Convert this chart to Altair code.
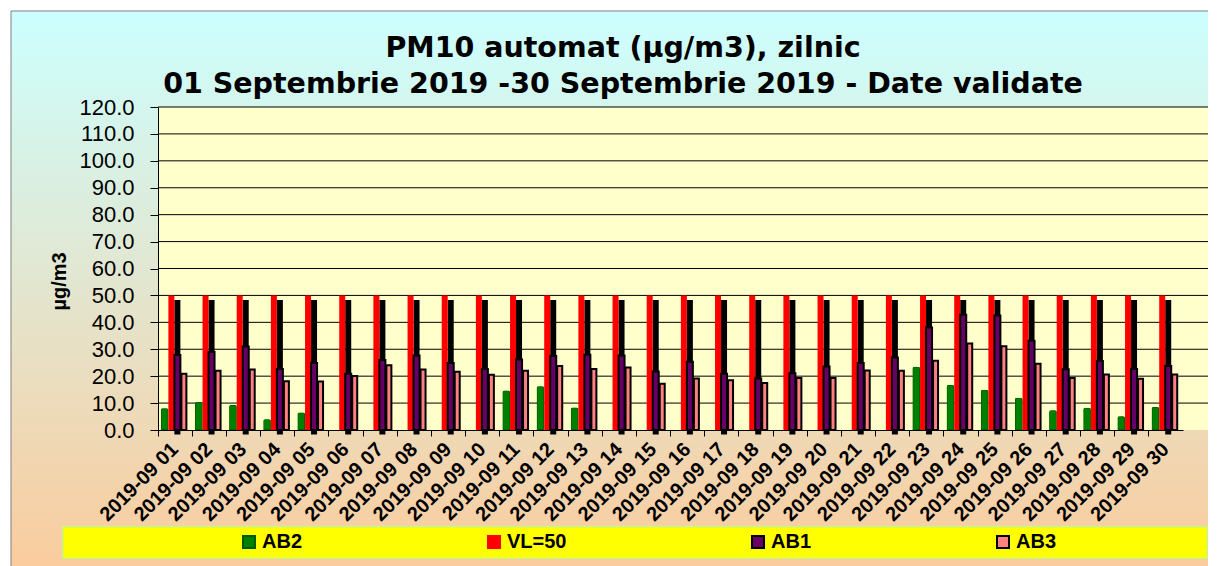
import altair as alt
import pandas as pd

DAYS = ["2019-09 01", "2019-09 02", "2019-09 03", "2019-09 04", "2019-09 05",
        "2019-09 06", "2019-09 07", "2019-09 08", "2019-09 09", "2019-09 10",
        "2019-09 11", "2019-09 12", "2019-09 13", "2019-09 14", "2019-09 15",
        "2019-09 16", "2019-09 17", "2019-09 18", "2019-09 19", "2019-09 20",
        "2019-09 21", "2019-09 22", "2019-09 23", "2019-09 24", "2019-09 25",
        "2019-09 26", "2019-09 27", "2019-09 28", "2019-09 29", "2019-09 30"]
AB2 = [8.1, 10.4, 9.3, 4.0, 6.5, None, None, None, None, None,
       14.7, 16.3, 8.4, None, None, None, None, None, None, None,
       None, None, 23.5, 16.7, 14.9, 12.0, 7.3, 8.3, 5.1, 8.5]
VL = [50.0] * 30
AB1 = [27.9, 29.0, 31.0, 22.7, 24.9, 20.9, 26.0, 27.7, 24.9, 22.7,
       26.2, 27.5, 28.0, 27.7, 21.7, 25.4, 20.9, 19.1, 21.1, 23.6,
       24.9, 26.9, 38.1, 42.8, 42.5, 33.2, 22.6, 25.6, 22.7, 23.8]
AB3 = [20.9, 22.0, 22.5, 18.1, 18.0, 20.1, 24.1, 22.5, 21.6, 20.5,
       22.0, 23.8, 22.7, 23.2, 17.2, 19.1, 18.5, 17.5, 19.3, 19.3,
       22.1, 22.0, 25.7, 32.1, 31.1, 24.6, 19.3, 20.6, 19.0, 20.6]
SERIES = ["AB2", "VL=50", "AB1", "AB3"]
FILLS = ["#008000", "#FF0000", "#660066", "#FF8080"]
STROKES = ["#005A00", "#FF0000", "#000000", "#000000"]
Y_TICKS = [0, 10, 20, 30, 40, 50, 60, 70, 80, 90, 100, 110, 120]
GRID = [10, 20, 30, 40, 50, 60, 70, 80, 90, 100, 110, 120]
TITLE = ["PM10 automat (\u00b5g/m3), zilnic",
         "01 Septembrie 2019 -30 Septembrie 2019 - Date validate"]

W, H = 1050, 323
BAND_RANGE = 1025

df = pd.DataFrame({"day": DAYS, "AB2": AB2, "VL": VL, "AB1": AB1, "AB3": AB3})
one = pd.DataFrame({"k": [0]})

XS = alt.Scale(domain=DAYS, range=[0, BAND_RANGE], paddingInner=0, paddingOuter=0)
YS = alt.Scale(domain=[0, 120], nice=False, zero=True)

X_AXIS = alt.Axis(title=None, bandPosition=0, labelOffset=0, labelAngle=-45,
                  labelAlign="right", labelBaseline="middle",
                  labelFont="Liberation Sans", labelFontSize=20, labelFontWeight="bold",
                  labelColor="black", tickSize=6, tickColor="black",
                  domainColor="black", labelPadding=10, zindex=1, grid=False)
Y_AXIS = alt.Axis(title="\u00b5g/m3", values=Y_TICKS, format=".1f",
                  labelFont="Liberation Sans", labelFontSize=22, labelColor="black",
                  tickSize=8, tickColor="black", domainColor="black", labelPadding=16,
                  titleFont="Liberation Sans", titleFontSize=20, titleFontWeight="bold",
                  titleColor="black", titleX=-89, titleY=174, titleAlign="center",
                  titleBaseline="bottom", grid=False, zindex=1)

CS = alt.Scale(domain=SERIES, range=FILLS)
SS = alt.Scale(domain=SERIES, range=STROKES)

x_enc = alt.X("day:N", scale=XS, axis=X_AXIS, sort=DAYS)

background = alt.Chart(one).mark_rect(
    color={"gradient": "linear", "x1": 0, "y1": 0, "x2": 0, "y2": 1,
           "stops": [{"offset": 0, "color": "#CCFFFF"},
                     {"offset": 1, "color": "#FBCB9C"}]},
).encode(x=alt.value(-147), x2=alt.value(W), y=alt.value(-96), y2=alt.value(470))

frame_left = alt.Chart(one).mark_rule(color="#808080", strokeWidth=1).encode(
    x=alt.value(-147), y=alt.value(-96), y2=alt.value(470))
frame_top = alt.Chart(one).mark_rule(color="#808080", strokeWidth=1).encode(
    x=alt.value(-147), x2=alt.value(W), y=alt.value(-96))

plot_bg = alt.Chart(one).mark_rect(color="#FFFFCC").encode(
    x=alt.value(0), x2=alt.value(W), y=alt.value(0), y2=alt.value(H))

strip = alt.Chart(one).mark_rect(color="#FFFF00", stroke="#CCFF66", strokeWidth=1.5).encode(
    x=alt.value(-95), x2=alt.value(W - 1), y=alt.value(420), y2=alt.value(451))

grid = alt.Chart(pd.DataFrame({"v": GRID})).mark_rule(color="#000000", strokeWidth=1).encode(
    y=alt.Y("v:Q", scale=YS, axis=Y_AXIS), x=alt.value(0), x2=alt.value(W))


def series_layer(col, name, width, xoff, stroke_w, **kw):
    return alt.Chart(df).transform_calculate(series=f"'{name}'").mark_bar(
        width=width, xOffset=xoff, strokeWidth=stroke_w, **kw).encode(
        x=x_enc,
        y=alt.Y(f"{col}:Q", scale=YS, axis=Y_AXIS),
        color=alt.Color("series:N", scale=CS, legend=alt.Legend(title=None)),
        stroke=alt.Stroke("series:N", scale=SS, legend=alt.Legend(title=None)),
    )


ab2 = series_layer("AB2", "AB2", 7.5, -10.5, 1.5, cornerRadiusTopLeft=2, cornerRadiusTopRight=2)
shadow = alt.Chart(df).mark_bar(color="#000000", width=6, xOffset=2.3, yOffset=4.5, y2Offset=2).encode(
    x=x_enc, y=alt.Y("VL:Q", scale=YS, axis=Y_AXIS))
vl = series_layer("VL", "VL=50", 6, -3.7, 0)
ab1 = series_layer("AB1", "AB1", 6, 2.3, 2)
ab3 = series_layer("AB3", "AB3", 5, 8.8, 2)

chart = alt.layer(background, frame_left, frame_top, plot_bg, strip, grid,
                  ab2, shadow, vl, ab1, ab3).properties(
    width=W, height=H,
    padding={"left": 2, "top": 2, "right": 0, "bottom": 0},
    title=alt.TitleParams(text=TITLE, anchor="middle", dx=-60, dy=64, offset=-47,
                          baseline="alphabetic", font="DejaVu Sans", fontSize=28.5,
                          fontWeight="bold", color="black", lineHeight=36, frame="group"),
).configure_view(strokeWidth=0).configure_legend(
    orient="none", legendX=81, legendY=425, direction="horizontal", columnPadding=181,
    symbolType="square", symbolSize=144, symbolStrokeWidth=2,
    labelFont="Liberation Sans", labelFontSize=20, labelFontWeight="bold",
    labelColor="black", padding=0, labelOffset=3, titlePadding=0,
)

chart.save("out.html", embed_options={"renderer": "svg", "actions": False})
